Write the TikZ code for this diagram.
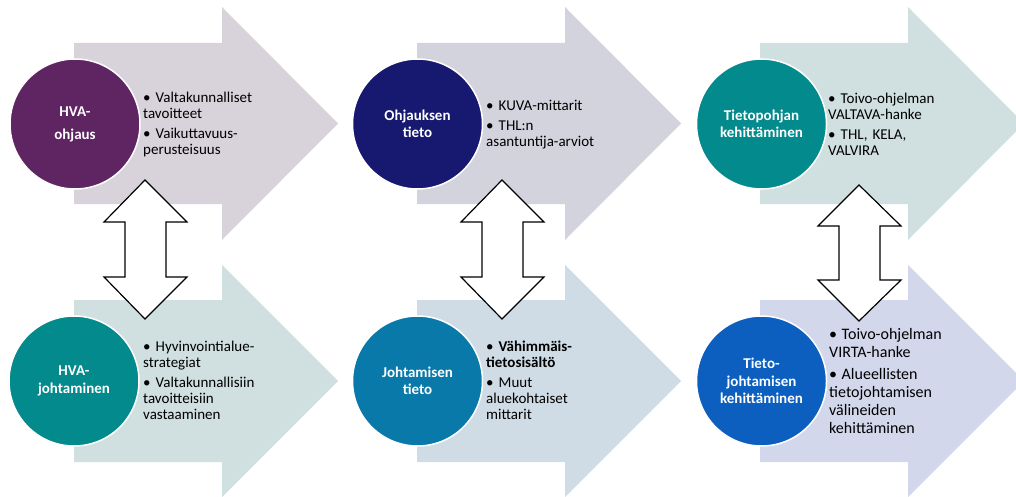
\documentclass[tikz,border=0pt]{standalone}
\usepackage{fontspec}
\setmainfont{Carlito}
\usepackage{xcolor}
\usepackage{tikz}
\usetikzlibrary{positioning}

\definecolor{arrmauve}{HTML}{D8D3DA}
\definecolor{arrlav}{HTML}{D3D3DE}
\definecolor{arrteal}{HTML}{D0DFDF}
\definecolor{arrblue}{HTML}{D0DCE5}
\definecolor{arrsky}{HTML}{D2D7EB}
\definecolor{cpurple}{HTML}{5F2462}
\definecolor{cnavy}{HTML}{17186F}
\definecolor{cteal}{HTML}{038A8C}
\definecolor{cblue}{HTML}{0879A9}
\definecolor{croyal}{HTML}{0C5FBF}

\newcommand{\bul}{\hangindent=12.5pt\hangafter=1\noindent\hbox to 12.5pt{\textbullet\hfil}}
\newcommand{\nextbul}{\par\vspace{4pt}\bul}

\tikzset{
  circ/.style={circle, minimum size=130pt, inner sep=0pt, draw=white, line width=1.5pt,
    text=white, font=\bfseries\fontsize{15}{17.5}\selectfont, align=center},
  bullets/.style={anchor=base west, inner sep=0pt, text width=190pt, align=left,
    font=\fontsize{15}{16}\selectfont},
  dblarrow/.style={draw=black, fill=white, line width=1.2pt, line join=miter},
}

\begin{document}
\begin{tikzpicture}[x=1pt, y=-1pt]
\useasboundingbox (0,0) rectangle (1016,497);
\clip (0,0) rectangle (1016,497);
% big arrows, top row
\fill[arrmauve] (74,43) -- (222,43) -- (222,7) -- (338,123.5) -- (222,240) -- (222,204) -- (74,204) -- cycle;
\fill[arrlav] (417,43) -- (565,43) -- (565,7) -- (681,123.5) -- (565,240) -- (565,204) -- (417,204) -- cycle;
\fill[arrteal] (760,43) -- (908,43) -- (908,7) -- (1024,123.5) -- (908,240) -- (908,204) -- (760,204) -- cycle;
% big arrows, bottom row
\fill[arrteal] (74,300) -- (222,300) -- (222,265) -- (338,381) -- (222,497) -- (222,462) -- (74,462) -- cycle;
\fill[arrblue] (417,300) -- (565,300) -- (565,265) -- (681,381) -- (565,497) -- (565,462) -- (417,462) -- cycle;
\fill[arrsky] (760,300) -- (908,300) -- (908,265) -- (1024,381) -- (908,497) -- (908,462) -- (760,462) -- cycle;

% up-down arrows
\filldraw[dblarrow] (145,180) -- (187,222) -- (166,222) -- (166,277) -- (187,277) -- (145,319) -- (104,277) -- (125,277) -- (125,222) -- (104,222) -- cycle;
\filldraw[dblarrow] (502,180) -- (544,222) -- (523,222) -- (523,277) -- (544,277) -- (502,319) -- (461,277) -- (482,277) -- (482,222) -- (461,222) -- cycle;
\filldraw[dblarrow] (859,185) -- (901,226) -- (880,226) -- (880,280) -- (901,280) -- (859,321) -- (818,280) -- (839,280) -- (839,226) -- (818,226) -- cycle;

% circles
\node[circ, fill=cpurple, font=\bfseries\fontsize{15}{23}\selectfont] (hvaohj) at (75,124) {HVA-\\ohjaus};
\node[circ, fill=cnavy] (ohjtieto) at (417.5,124) {Ohjauksen\\tieto};
\node[circ, fill=cteal] (tpkeh) at (761.5,124) {Tietopohjan\\kehittäminen};
\node[circ, fill=cteal] (hvajoht) at (74,381) {HVA-\\johtaminen};
\node[circ, fill=cblue] (johttieto) at (417.5,381) {Johtamisen\\tieto};
\node[circ, fill=croyal] (tjkeh) at (761.5,381) {Tieto-\\johtamisen\\kehittäminen};

% bullet texts
\node[bullets] (hvaohjtxt) at (143,103) {\bul Valtakunnalliset\\tavoitteet\nextbul Vaikuttavuus-\\perusteisuus};
\node[bullets] (ohjtietotxt) at (486,111) {\bul KUVA-mittarit\nextbul THL:n\\asantuntija-arviot};
\node[bullets] (tpkehtxt) at (828,104) {\bul Toivo-ohjelman\\VALTAVA-hanke\nextbul THL, KELA,\\VALVIRA};
\node[bullets] (hvajohttxt) at (143,351) {\bul Hyvinvointialue-\\strategiat\nextbul Valtakunnallisiin\\tavoitteisiin\\vastaaminen};
\node[bullets] (johttietotxt) at (486,351) {\bul \textbf{Vähimmäis-}\\\textbf{tietosisältö}\nextbul Muut\\aluekohtaiset\\mittarit};
\node[bullets, font=\fontsize{16}{18}\selectfont] (tjkehtxt) at (829,339) {\bul Toivo-ohjelman\\VIRTA-hanke\nextbul Alueellisten\\tietojohtamisen\\välineiden\\kehittäminen};
\end{tikzpicture}
\end{document}
